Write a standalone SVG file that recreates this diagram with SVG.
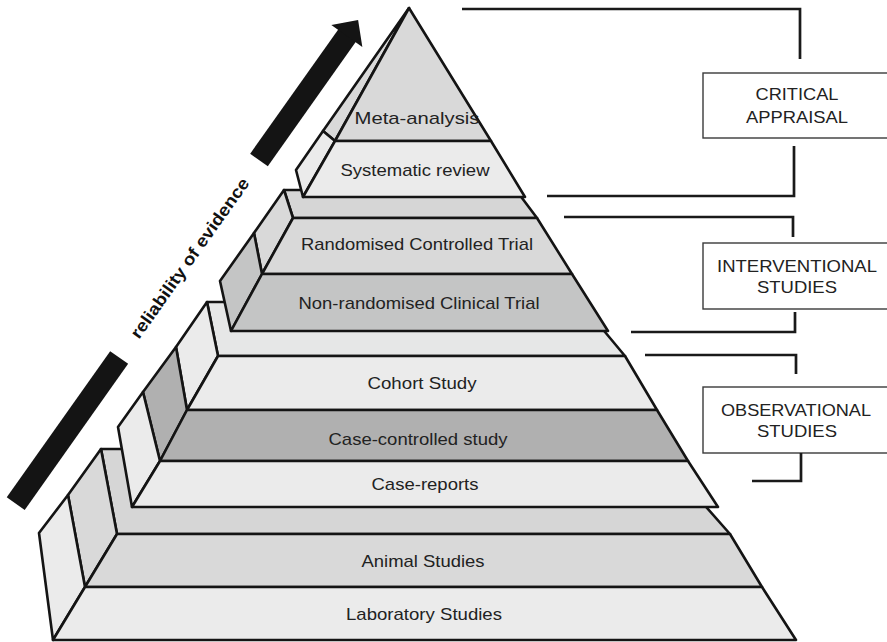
<svg xmlns="http://www.w3.org/2000/svg" width="887" height="642" viewBox="0 0 887 642">
  <style>
    .face { stroke: #141414; stroke-width: 2.6; stroke-linejoin: round; }
    .lt { fill: #ebebeb; }
    .md { fill: #d9d9d9; }
    .tp { fill: #d6d6d6; }
    .tp2 { fill: #e6e7e7; }
    .dk { fill: #c4c5c5; }
    .dk2 { fill: #b0b0b0; }
    .lbl { font-family: "Liberation Sans", Arial, Helvetica, sans-serif; font-size: 17px; fill: #222; text-anchor: middle; }
    .box { fill: #ffffff; stroke: #3a3a3a; stroke-width: 1.4; }
    .wire { fill: none; stroke: #1a1a1a; stroke-width: 2.7; }
    .bar { fill: #141414; }
    .axis { font-family: "Liberation Sans", Arial, Helvetica, sans-serif; font-size: 17px; font-weight: bold; fill: #111; text-anchor: middle; }
  </style>

  <rect width="887" height="642" fill="#ffffff"/>

  <!-- Bottom tier: pre-clinical research -->
  <g id="tier-preclinical">
    <polygon class="face tp" points="101,449 655,449 730,534 117,534"/>
    <g id="animal-studies">
      <polygon class="face md" points="101,449 68,495 85,587 117,534"/>
      <polygon class="face md" points="117,534 730,534 762,587 85,587"/>
      <text class="lbl" x="423" y="567" textLength="123" lengthAdjust="spacingAndGlyphs">Animal Studies</text>
    </g>
    <g id="laboratory-studies">
      <polygon class="face lt" points="68,495 39,533 53,640 85,587"/>
      <polygon class="face lt" points="85,587 762,587 796,640 53,640"/>
      <text class="lbl" x="424" y="620" textLength="156" lengthAdjust="spacingAndGlyphs">Laboratory Studies</text>
    </g>
  </g>

  <!-- Third tier: observational studies -->
  <g id="tier-observational">
    <polygon class="face tp2" points="207,302 580,302 625,356 218,356"/>
    <g id="cohort-study">
      <polygon class="face lt" points="207,302 176,347 187,410 218,356"/>
      <polygon class="face lt" points="218,356 625,356 657,410 187,410"/>
      <text class="lbl" x="422" y="389" textLength="109" lengthAdjust="spacingAndGlyphs">Cohort Study</text>
    </g>
    <g id="case-controlled-study">
      <polygon class="face dk2" points="176,347 143,392 160,461 187,410"/>
      <polygon class="face dk2" points="187,410 657,410 688,461 160,461"/>
      <text class="lbl" x="418" y="445" textLength="179" lengthAdjust="spacingAndGlyphs">Case-controlled study</text>
    </g>
    <g id="case-reports">
      <polygon class="face lt" points="143,392 118,427 132,507 160,461"/>
      <polygon class="face lt" points="160,461 688,461 718,507 132,507"/>
      <text class="lbl" x="425" y="490" textLength="107" lengthAdjust="spacingAndGlyphs">Case-reports</text>
    </g>
  </g>

  <!-- Second tier: interventional studies -->
  <g id="tier-interventional">
    <polygon class="face tp" points="284,190 516,190 537,218 293,218"/>
    <g id="randomised-controlled-trial">
      <polygon class="face md" points="284,190 254,233 262,274 293,218"/>
      <polygon class="face md" points="293,218 537,218 572,274 262,274"/>
      <text class="lbl" x="417" y="250" textLength="232" lengthAdjust="spacingAndGlyphs">Randomised Controlled Trial</text>
    </g>
    <g id="non-randomised-clinical-trial">
      <polygon class="face dk" points="254,233 220,281 231,331 262,274"/>
      <polygon class="face dk" points="262,274 572,274 608,331 231,331"/>
      <text class="lbl" x="419" y="309" textLength="241" lengthAdjust="spacingAndGlyphs">Non-randomised Clinical Trial</text>
    </g>
  </g>

  <!-- Top tier: critical appraisal -->
  <g id="tier-appraisal">
    <g id="meta-analysis">
      <polygon class="face md" points="409,8 323,131 335,141"/>
      <polygon class="face md" points="409,8 491,141 335,141"/>
      <text class="lbl" x="417" y="124" textLength="125" lengthAdjust="spacingAndGlyphs">Meta-analysis</text>
    </g>
    <g id="systematic-review">
      <polygon class="face lt" points="323,131 296,170 303,197 335,141"/>
      <polygon class="face lt" points="335,141 491,141 525,197 303,197"/>
      <text class="lbl" x="415" y="176" textLength="149" lengthAdjust="spacingAndGlyphs">Systematic review</text>
    </g>
  </g>

  <!-- Reliability axis -->
  <g id="reliability-arrow" transform="translate(259,160) rotate(-54.7)">
    <rect class="bar" x="0" y="-10.8" width="153" height="21.6"/>
    <polygon class="bar" points="152,-19 171.5,0 152,19"/>
    <rect class="bar" x="-421" y="-11" width="179" height="22"/>
    <text class="axis" x="-120" y="6" textLength="192" lengthAdjust="spacingAndGlyphs">reliability of evidence</text>
  </g>

  <!-- Category boxes -->
  <g id="critical-appraisal">
    <rect class="box" x="703" y="73" width="200" height="65"/>
    <text class="lbl" x="797" y="100" textLength="83" lengthAdjust="spacingAndGlyphs">CRITICAL</text>
    <text class="lbl" x="797" y="123" textLength="102" lengthAdjust="spacingAndGlyphs">APPRAISAL</text>
  </g>
  <g id="interventional-studies">
    <rect class="box" x="703" y="243" width="200" height="66"/>
    <text class="lbl" x="797" y="272" textLength="160" lengthAdjust="spacingAndGlyphs">INTERVENTIONAL</text>
    <text class="lbl" x="797" y="293" textLength="80" lengthAdjust="spacingAndGlyphs">STUDIES</text>
  </g>
  <g id="observational-studies">
    <rect class="box" x="703" y="387" width="200" height="66"/>
    <text class="lbl" x="796" y="416" textLength="150" lengthAdjust="spacingAndGlyphs">OBSERVATIONAL</text>
    <text class="lbl" x="797" y="437" textLength="80" lengthAdjust="spacingAndGlyphs">STUDIES</text>
  </g>

  <!-- Bracket connectors from boxes to pyramid tiers -->
  <g id="connectors">
    <polyline class="wire" points="462,9 800,9 800,59"/>
    <polyline class="wire" points="794,146 794,196 547,196"/>
    <polyline class="wire" points="564,217 793,217 793,237"/>
    <polyline class="wire" points="795,312 795,332 631,332"/>
    <polyline class="wire" points="645,355 796,355 796,374"/>
    <polyline class="wire" points="801,453 801,481 752,481"/>
  </g>
</svg>
